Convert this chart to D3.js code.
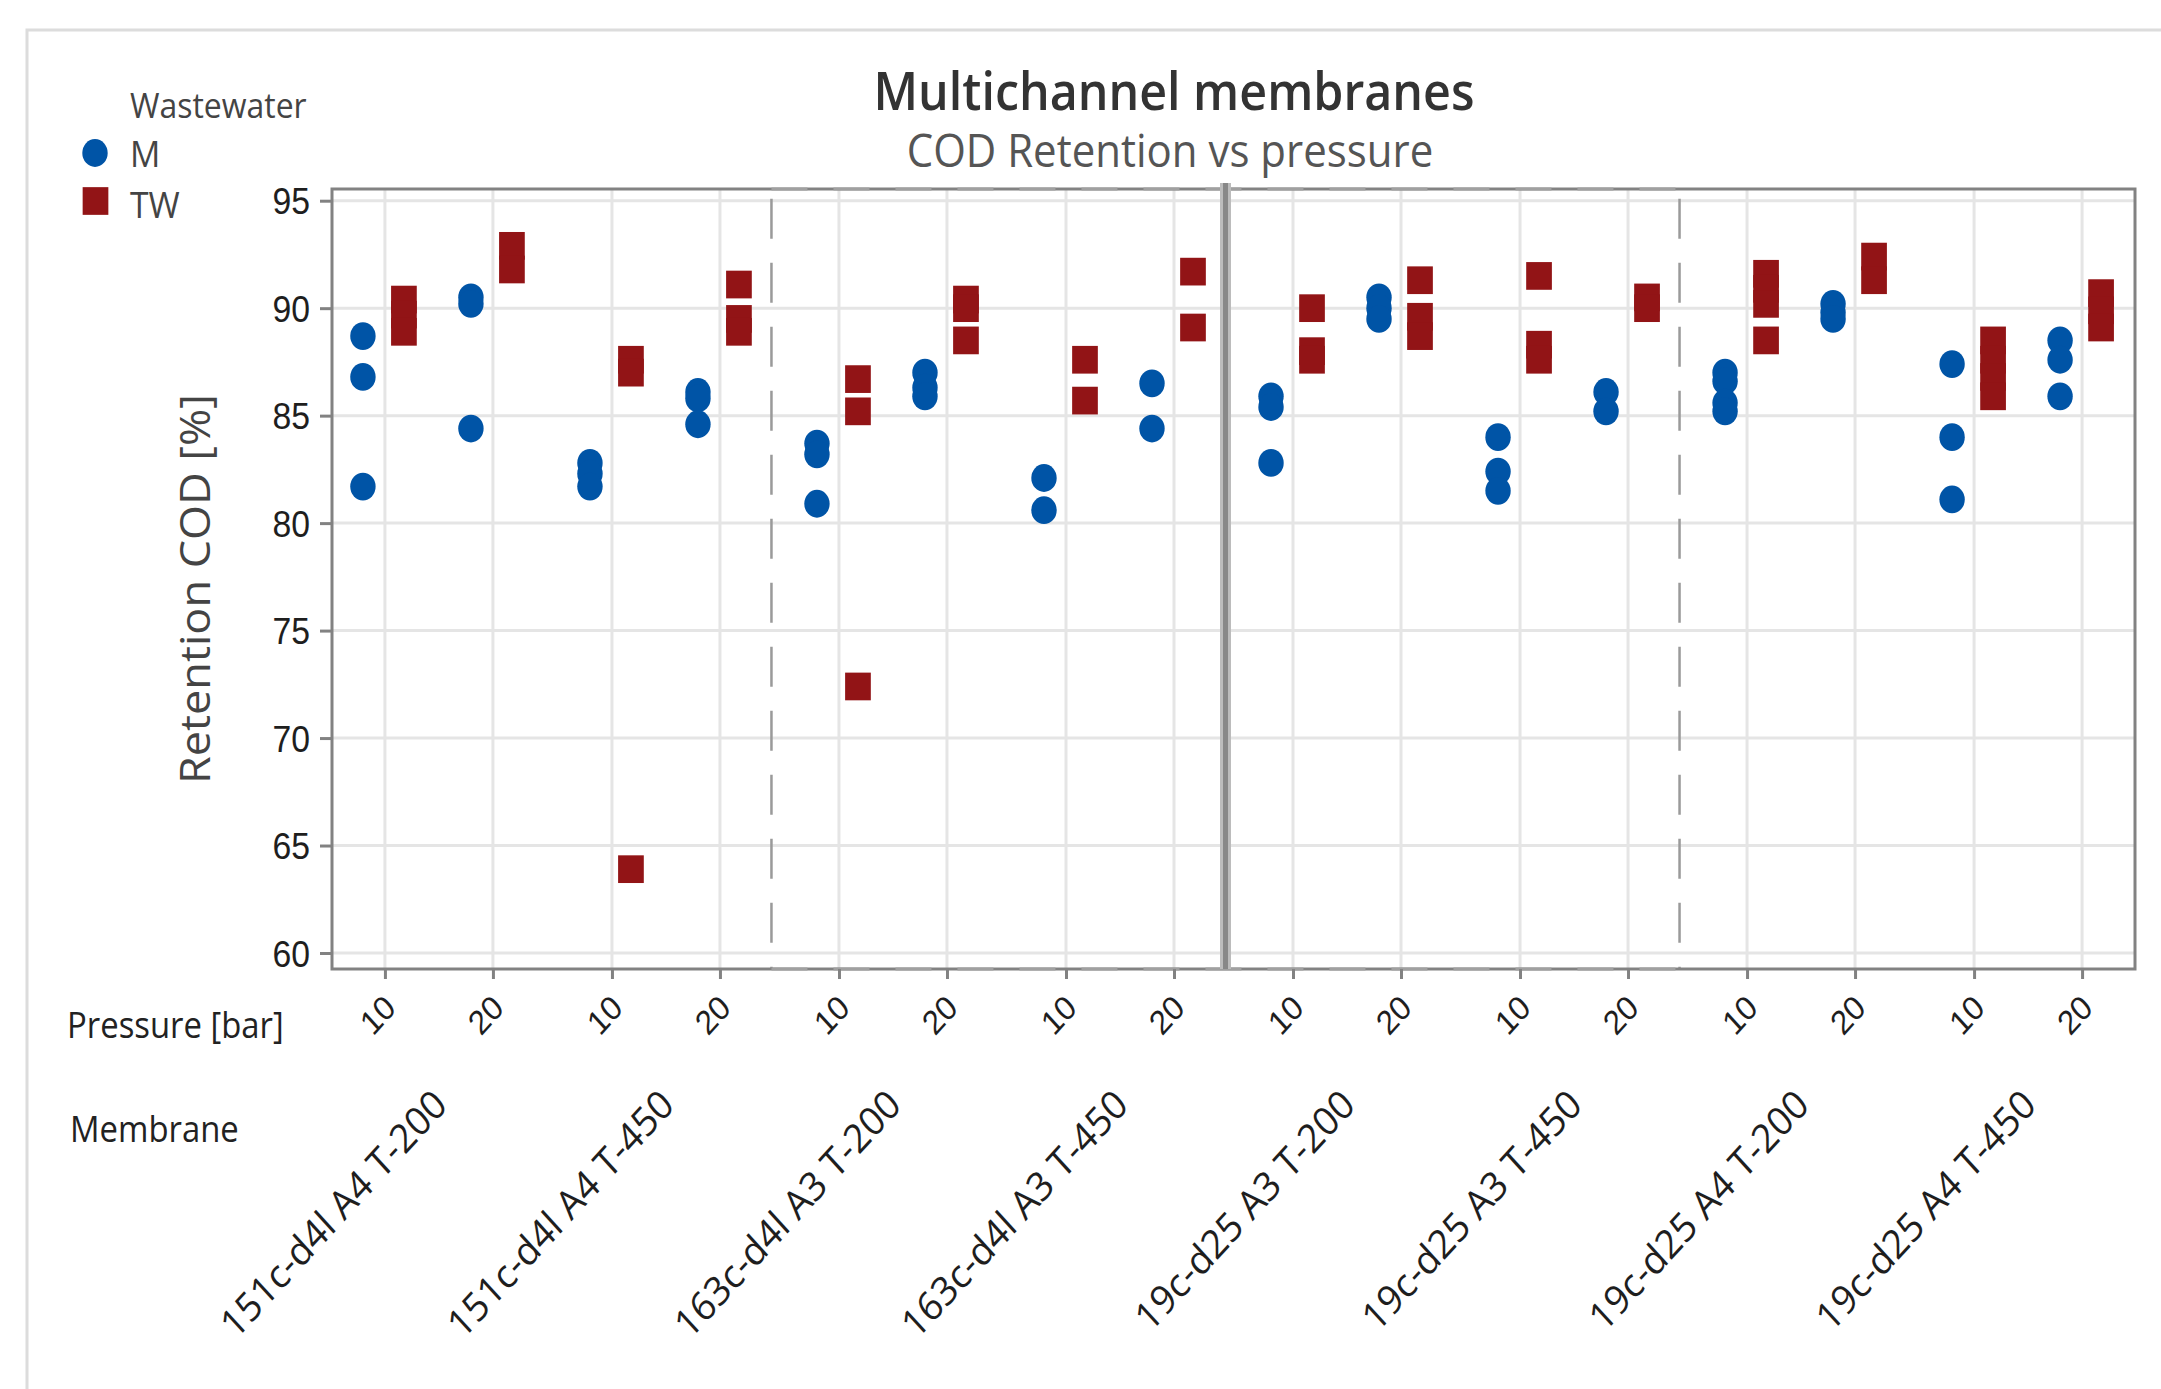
<!DOCTYPE html>
<html>
<head>
<meta charset="utf-8">
<script src="https://cdn.jsdelivr.net/npm/d3@7"></script>
<style>
body { margin: 0; background: #fff; }
svg { display: block; font-family: "Open Sans", "Noto Sans", sans-serif; }
</style>
</head>
<body>
<svg id="chart" width="2161" height="1389"></svg>
<script>
// categories
var membranes = ["151c-d4l A4 T-200", "151c-d4l A4 T-450", "163c-d4l A3 T-200", "163c-d4l A3 T-450",
  "19c-d25 A3 T-200", "19c-d25 A3 T-450", "19c-d25 A4 T-200", "19c-d25 A4 T-450"];
var pressures = ["10", "20"];
var wastewater = ["M", "TW"];
var yTicks = [60, 65, 70, 75, 80, 85, 90, 95];

// Retention COD [%] per membrane -> [10 bar replicates, 20 bar replicates]
var retentionM = [
  [[88.7, 86.8, 81.7], [90.5, 90.2, 84.4]],
  [[82.8, 82.3, 81.7], [86.1, 85.8, 84.6]],
  [[83.7, 83.2, 80.9], [87.0, 86.3, 85.9]],
  [[82.1, 80.6], [86.5, 84.4]],
  [[85.9, 85.4, 82.8], [90.5, 90.0, 89.5]],
  [[84.0, 82.4, 81.5], [86.1, 85.2]],
  [[87.0, 86.6, 85.6, 85.2], [90.2, 89.8, 89.5]],
  [[87.4, 84.0, 81.1], [88.5, 87.6, 85.9]]
];
var retentionTW = [
  [[90.4, 89.7, 88.9], [92.9, 91.8]],
  [[87.6, 87.0, 63.9], [91.1, 89.5, 88.9]],
  [[86.7, 85.2, 72.4], [90.4, 90.0, 88.5]],
  [[87.6, 85.7], [91.7, 89.1]],
  [[90.0, 88.0, 87.6], [91.3, 89.6, 88.7]],
  [[91.5, 88.3, 87.6], [90.5, 90.0]],
  [[91.6, 90.9, 90.2, 88.5], [92.4, 91.3]],
  [[88.5, 87.6, 86.8, 85.9], [90.7, 89.9, 89.1]]
];

var colors = { M: "#0054a6", TW: "#921416" };
var SX = 0.913; // picture is a bit squeezed horizontally
var plotL = 332, plotR = 2135, plotT = 189, plotB = 969;

var svg = d3.select("#chart");

var x = d3.scalePoint().domain(membranes).range([plotL, plotR]).padding(0.471);
var xP = d3.scalePoint().domain(pressures).range([-54, 54]);
var xW = d3.scalePoint().domain(wastewater).range([-22, 19]);
var y = d3.scaleLinear().domain([60, 95]).range([953, 200.7]);

// every pressure tick along the bottom
var tickKeys = [];
membranes.forEach(function(m) {
  pressures.forEach(function(p) { tickKeys.push(m + "|" + p); });
});
var xTick = d3.scaleOrdinal()
  .domain(tickKeys)
  .range(tickKeys.map(function(k) {
    var s = k.split("|");
    return x(s[0]) + xP(s[1]);
  }));

// outer box
svg.append("rect")
  .attr("x", 27).attr("y", 30)
  .attr("width", 2200).attr("height", 1400)
  .attr("fill", "none").attr("stroke", "#dcdcdc").attr("stroke-width", 3);

// grid
svg.append("g").selectAll("line")
  .data(yTicks)
  .enter().append("line")
  .attr("x1", plotL).attr("x2", plotR)
  .attr("y1", function(d) { return y(d); })
  .attr("y2", function(d) { return y(d); })
  .attr("stroke", "#e5e5e5").attr("stroke-width", 3);

svg.append("g").selectAll("line")
  .data(tickKeys)
  .enter().append("line")
  .attr("x1", function(d) { return xTick(d); })
  .attr("x2", function(d) { return xTick(d); })
  .attr("y1", plotT).attr("y2", plotB)
  .attr("stroke", "#e5e5e5").attr("stroke-width", 3);

// separators between membrane families
function between(i) {
  return (x(membranes[i]) + x(membranes[i + 1])) / 2 - 8;
}
[1, 5].forEach(function(i) {
  svg.append("line")
    .attr("x1", between(i)).attr("x2", between(i))
    .attr("y1", y(95) - 2).attr("y2", plotB)
    .attr("stroke", "#9a9a9a").attr("stroke-width", 2.5)
    .attr("stroke-dasharray", "40,24");
});

// frame
svg.append("rect")
  .attr("x", plotL).attr("y", plotT)
  .attr("width", plotR - plotL).attr("height", plotB - plotT)
  .attr("fill", "none").attr("stroke", "#828282").attr("stroke-width", 3);

[plotT, plotB].forEach(function(yy) {
  svg.append("line")
    .attr("x1", between(1)).attr("x2", between(5))
    .attr("y1", yy).attr("y2", yy)
    .attr("stroke", "#a0a0a0").attr("stroke-width", 3)
    .attr("stroke-dasharray", "36,26");
});

svg.append("line")
  .attr("x1", between(3)).attr("x2", between(3))
  .attr("y1", plotT - 6).attr("y2", plotB)
  .attr("stroke", "#bcbcbc").attr("stroke-width", 11);
svg.append("line")
  .attr("x1", between(3)).attr("x2", between(3))
  .attr("y1", plotT - 6).attr("y2", plotB)
  .attr("stroke", "#888").attr("stroke-width", 5);

// points
var points = [];
membranes.forEach(function(m, i) {
  pressures.forEach(function(p, j) {
    retentionM[i][j].forEach(function(v) {
      points.push({ membrane: m, pressure: p, water: "M", value: v });
    });
    retentionTW[i][j].forEach(function(v) {
      points.push({ membrane: m, pressure: p, water: "TW", value: v });
    });
  });
});
function px(d) { return x(d.membrane) + xP(d.pressure) + xW(d.water); }

svg.append("g").selectAll("ellipse")
  .data(points.filter(function(d) { return d.water === "M"; }))
  .enter().append("ellipse")
  .attr("cx", px)
  .attr("cy", function(d) { return y(d.value); })
  .attr("rx", 12.7).attr("ry", 13.9)
  .attr("fill", colors.M);

svg.append("g").selectAll("rect")
  .data(points.filter(function(d) { return d.water === "TW"; }))
  .enter().append("rect")
  .attr("x", function(d) { return px(d) - 12.85; })
  .attr("y", function(d) { return y(d.value) - 13.85; })
  .attr("width", 25.7).attr("height", 27.7)
  .attr("fill", colors.TW);

// y axis
var yAxis = svg.append("g")
  .attr("transform", "translate(" + plotL + ",0)")
  .call(d3.axisLeft(y).tickValues(yTicks).tickSizeInner(12).tickSizeOuter(0).tickPadding(0));
yAxis.select(".domain").remove();
yAxis.selectAll(".tick line").attr("stroke", "#828282").attr("stroke-width", 3);
yAxis.selectAll(".tick text")
  .attr("x", null).attr("dy", null)
  .attr("transform", "translate(-22,13) scale(" + SX + ",1)")
  .attr("font-size", 37).attr("fill", "#1e1e1e").attr("font-family", null);

// x axis (pressure ticks)
var xAxis = svg.append("g")
  .attr("transform", "translate(0," + plotB + ")")
  .call(d3.axisBottom(xTick).tickSizeInner(10).tickSizeOuter(0)
    .tickFormat(function(d) { return d.split("|")[1]; }));
xAxis.select(".domain").remove();
xAxis.selectAll(".tick line").attr("stroke", "#828282").attr("stroke-width", 3);
xAxis.selectAll(".tick text")
  .attr("y", null).attr("dy", null)
  .attr("text-anchor", "end")
  .attr("transform", "translate(12,41) scale(" + SX + ",1) rotate(-45)")
  .attr("font-size", 34).attr("fill", "#1e1e1e").attr("font-family", null);

// membrane labels
svg.append("g").selectAll("text")
  .data(membranes)
  .enter().append("text")
  .attr("text-anchor", "end")
  .attr("transform", function(d) {
    return "translate(" + (x(d) + 10) + ",1107) scale(" + SX + ",1) rotate(-45)";
  })
  .attr("font-size", 40).attr("fill", "#1e1e1e")
  .text(function(d) { return d; });

function label(txt, tx, ty, size, color, anchor, weight) {
  svg.append("text")
    .attr("transform", "translate(" + tx + "," + ty + ") scale(" + SX + ",1)")
    .attr("text-anchor", anchor || "start")
    .attr("font-size", size)
    .attr("font-weight", weight || 400)
    .attr("fill", color)
    .text(txt);
}

label("Pressure [bar]", 67, 1038, 36, "#222");
label("Membrane", 70, 1142, 36, "#222");

// titles
label("Multichannel membranes", 1174, 110, 53, "#333", "middle", 600);
label("COD Retention vs pressure", 1170, 167, 46, "#555", "middle");

// y title
svg.append("text")
  .attr("transform", "translate(196,589) scale(" + SX + ",1) rotate(-90)")
  .attr("text-anchor", "middle")
  .attr("dy", "0.35em")
  .attr("font-size", 45).attr("fill", "#444")
  .text("Retention COD [%]");

// legend
label("Wastewater", 130, 118, 35, "#444");
svg.append("ellipse")
  .attr("cx", 95).attr("cy", 153).attr("rx", 12.7).attr("ry", 13.9)
  .attr("fill", colors.M);
label("M", 130, 167, 37, "#444");
svg.append("rect")
  .attr("x", 95.5 - 12.85).attr("y", 201 - 13.85)
  .attr("width", 25.7).attr("height", 27.7)
  .attr("fill", colors.TW);
label("TW", 130, 218, 37, "#444");
</script>
</body>
</html>
